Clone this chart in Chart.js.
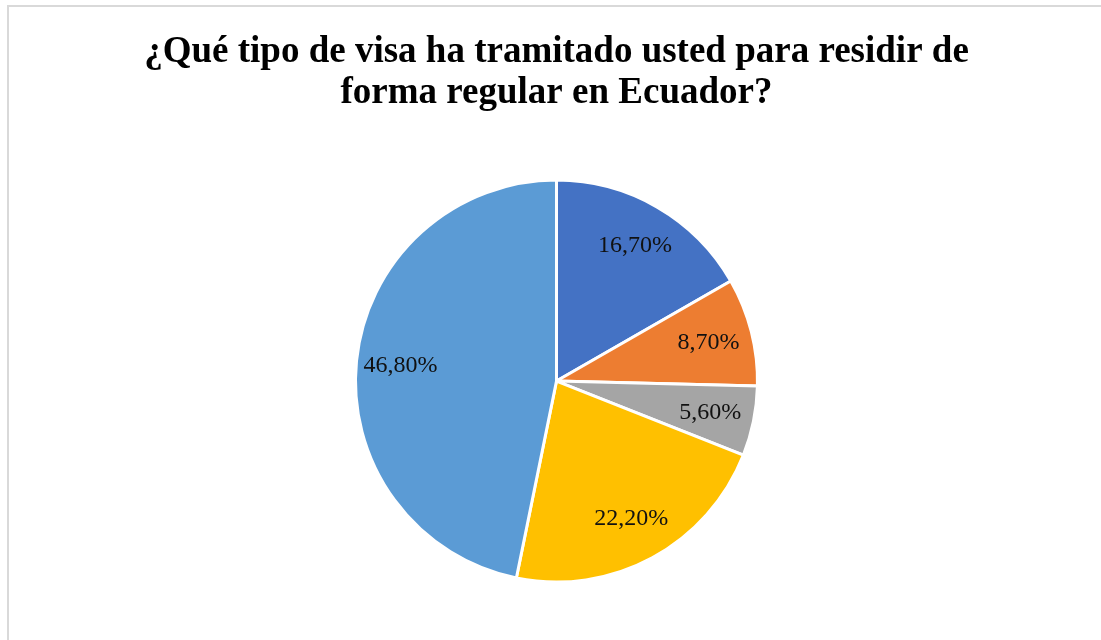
<!DOCTYPE html>
<html lang="es">
<head>
<meta charset="utf-8">
<title>Tipo de visa</title>
<script src="https://cdn.jsdelivr.net/npm/chart.js@4.4.1/dist/chart.umd.min.js"></script>
<style>
    html, body {
        margin: 0;
        padding: 0;
        background: #ffffff;
        overflow: hidden;
    }
    /* marco gris del gráfico (se sale por la derecha y por abajo) */
    .marco {
        position: absolute;
        left: 7px;
        top: 5px;
        width: 1200px;
        height: 800px;
        border: 2px solid #d9d9d9;
    }
    .lienzo {
        position: absolute;
        left: 0;
        top: 0;
        width: 1101px;
        height: 640px;
    }
</style>
</head>
<body>
<div class="marco"></div>
<div class="lienzo">
    <canvas id="visa-chart" width="1101" height="640"></canvas>
</div>
<script>
// ========================================
// Datos del gráfico
// ========================================

// Los nombres de las categorías no aparecen en la imagen original
const categorias = ['Categoría 1', 'Categoría 2', 'Categoría 3', 'Categoría 4', 'Categoría 5'];
const porcentajes = [16.7, 8.7, 5.6, 22.2, 46.8];
const colores = ['#4472C4', '#ED7D31', '#A5A5A5', '#FFC000', '#5B9BD5'];
const titulo = [
    '¿Qué tipo de visa ha tramitado usted para residir de',
    'forma regular en Ecuador?'
];

// Formato con coma decimal: 16,70%
function formatoPorcentaje(valor) {
    return valor.toFixed(2).replace('.', ',') + '%';
}

// Plugin para escribir el porcentaje dentro de cada sector
const etiquetasSectores = {
    id: 'etiquetasSectores',
    afterDatasetsDraw(chart) {
        const ctx = chart.ctx;
        const meta = chart.getDatasetMeta(0);
        const datos = chart.data.datasets[0].data;

        ctx.save();
        ctx.font = "24px 'Liberation Serif', 'Times New Roman', serif";
        ctx.fillStyle = '#111111';
        ctx.textAlign = 'center';
        ctx.textBaseline = 'middle';

        meta.data.forEach((arco, i) => {
            const p = arco.getProps(['x', 'y', 'startAngle', 'endAngle', 'outerRadius'], true);
            const medio = (p.startAngle + p.endAngle) / 2;
            const r = p.outerRadius * 0.78;
            ctx.fillText(
                formatoPorcentaje(datos[i]),
                p.x + Math.cos(medio) * r,
                p.y + Math.sin(medio) * r
            );
        });
        ctx.restore();
    }
};

const ctx = document.getElementById('visa-chart');

new Chart(ctx, {
    type: 'pie',
    data: {
        labels: categorias,
        datasets: [{
            data: porcentajes,
            backgroundColor: colores,
            borderColor: '#ffffff',
            borderWidth: 3,
            radius: 201
        }]
    },
    options: {
        responsive: false,
        animation: false,
        layout: {
            padding: { left: 12, right: 0, top: 0, bottom: 8 }
        },
        plugins: {
            legend: { display: false },
            tooltip: { enabled: false },
            title: {
                display: true,
                text: titulo,
                color: '#000000',
                font: {
                    family: "'Liberation Serif', 'Times New Roman', serif",
                    size: 37,
                    weight: 'bold',
                    lineHeight: 1.11
                },
                padding: { top: 32, bottom: 16 }
            }
        }
    },
    plugins: [etiquetasSectores]
});
</script>
</body>
</html>
